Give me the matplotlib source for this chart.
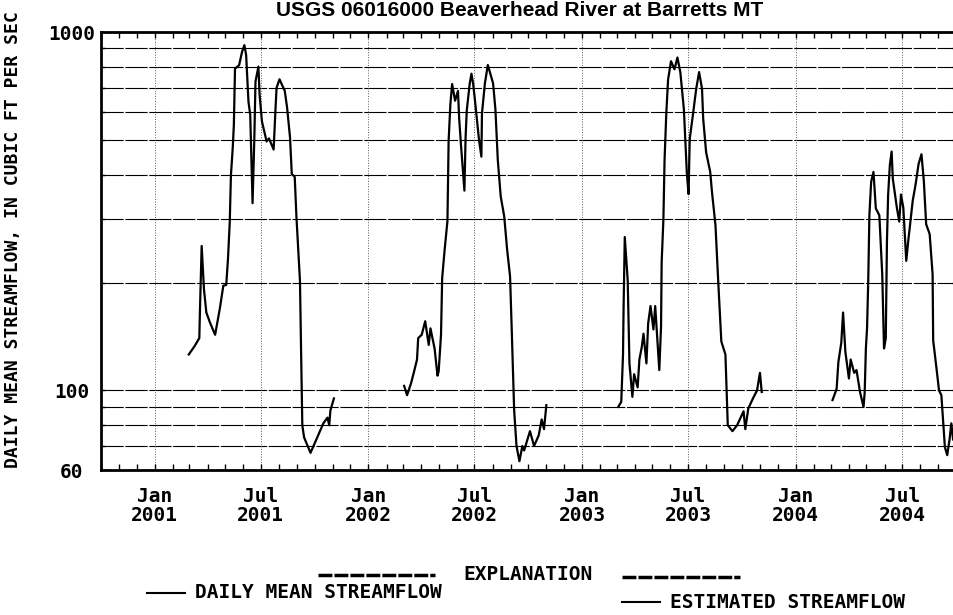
import matplotlib
matplotlib.use('Agg')
import matplotlib.pyplot as plt
import matplotlib.dates as mdates
import pandas as pd
from matplotlib.lines import Line2D
from matplotlib.ticker import FixedLocator, NullFormatter

# Daily mean streamflow (cubic ft per sec).
dates_2001 = ['2001-02-28', '2001-03-10', '2001-03-18', '2001-03-19', '2001-03-22', '2001-03-26',
              '2001-03-30', '2001-04-05', '2001-04-14', '2001-04-22', '2001-04-28', '2001-05-03',
              '2001-05-06', '2001-05-09', '2001-05-11', '2001-05-14', '2001-05-16', '2001-05-18',
              '2001-05-25', '2001-05-30', '2001-06-03', '2001-06-06', '2001-06-10', '2001-06-13',
              '2001-06-17', '2001-06-20', '2001-06-22', '2001-06-27', '2001-06-29', '2001-07-03',
              '2001-07-11', '2001-07-15', '2001-07-23', '2001-07-26', '2001-07-28', '2001-08-02',
              '2001-08-11', '2001-08-15', '2001-08-20', '2001-08-23', '2001-08-28', '2001-08-31',
              '2001-09-06', '2001-09-08', '2001-09-10', '2001-09-13', '2001-09-24', '2001-10-04',
              '2001-10-16', '2001-10-23', '2001-10-26', '2001-10-28', '2001-11-03']
flow_2001 = [126, 133, 140, 165, 253, 191, 165, 155, 143, 169, 196, 197,
             233, 295, 398, 472, 549, 790, 808, 880, 919, 863, 639, 587,
             333, 505, 728, 801, 668, 563, 495, 505, 470, 602, 699, 738,
             685, 615, 508, 401, 395, 304, 202, 126, 80, 74, 67, 73,
             81, 84, 80, 88, 95]

dates_2002 = ['2002-03-03', '2002-03-08', '2002-03-15', '2002-03-20', '2002-03-25', '2002-03-27',
              '2002-04-02', '2002-04-08', '2002-04-14', '2002-04-17', '2002-04-24', '2002-04-29',
              '2002-05-01', '2002-05-05', '2002-05-07', '2002-05-11', '2002-05-16', '2002-05-18',
              '2002-05-21', '2002-05-24', '2002-05-29', '2002-06-03', '2002-06-05', '2002-06-08',
              '2002-06-14', '2002-06-16', '2002-06-18', '2002-06-23', '2002-06-26', '2002-06-29',
              '2002-07-02', '2002-07-09', '2002-07-13', '2002-07-14', '2002-07-19', '2002-07-24',
              '2002-08-02', '2002-08-06', '2002-08-10', '2002-08-15', '2002-08-21', '2002-08-26',
              '2002-08-31', '2002-09-03', '2002-09-07', '2002-09-11', '2002-09-16', '2002-09-21',
              '2002-09-24', '2002-10-04', '2002-10-11', '2002-10-19', '2002-10-24', '2002-10-28',
              '2002-11-01']
flow_2002 = [103, 97, 105, 113, 122, 140, 143, 156, 134, 149, 131, 110,
             113, 143, 206, 245, 297, 497, 629, 716, 643, 685, 575, 487,
             361, 509, 604, 717, 765, 715, 645, 499, 449, 593, 719, 809,
             719, 607, 440, 348, 306, 247, 208, 145, 88, 70, 63.5, 70,
             68, 77, 70, 75, 83, 78, 91]

dates_2003 = ['2003-03-04', '2003-03-09', '2003-03-12', '2003-03-13', '2003-03-15', '2003-03-20',
              '2003-03-23', '2003-03-28', '2003-03-31', '2003-04-06', '2003-04-09', '2003-04-13',
              '2003-04-16', '2003-04-21', '2003-04-24', '2003-04-28', '2003-05-03', '2003-05-06',
              '2003-05-13', '2003-05-16', '2003-05-17', '2003-05-20', '2003-05-22', '2003-05-25',
              '2003-05-28', '2003-06-02', '2003-06-08', '2003-06-13', '2003-06-18', '2003-06-24',
              '2003-06-29', '2003-07-02', '2003-07-04', '2003-07-10', '2003-07-15', '2003-07-20',
              '2003-07-25', '2003-07-27', '2003-08-01', '2003-08-08', '2003-08-11', '2003-08-17',
              '2003-08-22', '2003-08-27', '2003-09-03', '2003-09-07', '2003-09-15', '2003-09-23',
              '2003-10-04', '2003-10-07', '2003-10-12', '2003-10-20', '2003-10-27', '2003-11-01',
              '2003-11-04']
flow_2003 = [90, 93, 126, 171, 268, 203, 119, 96, 111, 102, 122, 132,
             144, 119, 154, 172, 148, 172, 114, 151, 227, 300, 440, 595,
             736, 829, 787, 849, 771, 609, 406, 353, 503, 597, 693, 773,
             695, 573, 462, 407, 358, 289, 197, 137, 126, 80, 77, 80,
             87.5, 78, 89, 95, 100, 112, 99]

dates_2004 = ['2004-03-04', '2004-03-11', '2004-03-14', '2004-03-19', '2004-03-22', '2004-03-26',
              '2004-04-01', '2004-04-04', '2004-04-10', '2004-04-14', '2004-04-20', '2004-04-26',
              '2004-04-28', '2004-04-30', '2004-05-02', '2004-05-04', '2004-05-06', '2004-05-09',
              '2004-05-13', '2004-05-17', '2004-05-23', '2004-05-28', '2004-05-31', '2004-06-03',
              '2004-06-05', '2004-06-07', '2004-06-10', '2004-06-13', '2004-06-15', '2004-06-22',
              '2004-06-26', '2004-06-29', '2004-07-03', '2004-07-08', '2004-07-12', '2004-07-14',
              '2004-07-19', '2004-07-24', '2004-07-29', '2004-08-03', '2004-08-07', '2004-08-11',
              '2004-08-17', '2004-08-22', '2004-08-23', '2004-08-29', '2004-09-02', '2004-09-06',
              '2004-09-12', '2004-09-16', '2004-09-20', '2004-09-23', '2004-09-26']
flow_2004 = [94, 101, 120, 136, 165, 128, 108, 122, 112, 114, 99, 90,
             99, 131, 149, 201, 308, 382, 407, 322, 308, 210, 131, 140,
             260, 351, 426, 464, 390, 323, 296, 352, 323, 230, 267, 285,
             338, 376, 428, 456, 385, 291, 273, 211, 138, 114, 100, 97,
             69.5, 66, 73, 81, 73]

segments = [(dates_2001, flow_2001), (dates_2002, flow_2002),
            (dates_2003, flow_2003), (dates_2004, flow_2004)]

y_ticks = [60, 100, 1000]
y_grid = [70, 80, 90, 100, 200, 300, 400, 500, 600, 700, 800, 900]

title = 'USGS 06016000 Beaverhead River at Barretts MT'
y_label = 'DAILY MEAN STREAMFLOW, IN CUBIC FT PER SEC'

plt.rcParams['font.family'] = 'DejaVu Sans Mono'
plt.rcParams['font.weight'] = 'bold'

W, H = 954, 615
fig = plt.figure(figsize=(W / 100, H / 100), dpi=100)

def fx(px):
    return px / W

def fy(py):
    return 1 - py / H

# axes box in pixels: left 101, top 32, bottom 470, runs just past right edge
ax = fig.add_axes([fx(101), fy(470), 855 / W, 438 / H])

for d, v in segments:
    ax.plot(pd.to_datetime(d), v, color='black', lw=1.6)

ax.set_yscale('log')
ax.set_ylim(60, 1000)
ax.set_xlim(pd.Timestamp('2000-10-01'), pd.Timestamp('2004-10-01'))

ax.yaxis.set_major_locator(FixedLocator(y_ticks))
ax.yaxis.set_minor_locator(FixedLocator(y_grid))
ax.yaxis.set_minor_formatter(NullFormatter())
ax.set_yticklabels([str(t) for t in y_ticks], ha='center')
for g in y_grid:
    ax.axhline(g, color='black', lw=0.8, ls=(0, (20, 1.5)), zorder=1)

ax.xaxis.set_major_locator(mdates.MonthLocator(bymonth=[1, 7]))
ax.xaxis.set_minor_locator(mdates.MonthLocator())
ax.xaxis.set_major_formatter(mdates.DateFormatter('%b\n%Y'))
ax.grid(axis='x', which='major', color='0.35', lw=0.7, ls=':')

ax.tick_params(axis='x', which='both', direction='in', top=True, length=4, width=1,
               labelsize=14, pad=12)
ax.tick_params(axis='y', which='both', direction='in', right=True, length=3, width=1,
               labelsize=14, pad=21)
for lbl in ax.get_xticklabels():
    lbl.set_linespacing(1.0)

for s in ax.spines.values():
    s.set_linewidth(2)

fig.text(fx(520), fy(16), title, ha='center', va='baseline', fontsize=15,
         fontweight='bold', family='Liberation Sans')
fig.text(fx(13), fy(240), y_label, rotation=90, ha='center', va='center', fontsize=13)

# explanation block
fig.add_artist(Line2D([fx(318), fx(435)], [fy(575), fy(575)], color='black', lw=2.5,
                      ls=(0, (4, 0.6))))
fig.add_artist(Line2D([fx(622), fx(740)], [fy(577), fy(577)], color='black', lw=2.5,
                      ls=(0, (4, 0.6))))
fig.text(fx(463), fy(575), 'EXPLANATION', ha='left', va='center', fontsize=14)
fig.add_artist(Line2D([fx(147), fx(185)], [fy(593), fy(593)], color='black', lw=1.5))
fig.text(fx(195), fy(593), 'DAILY MEAN STREAMFLOW', ha='left', va='center', fontsize=14)
fig.add_artist(Line2D([fx(622), fx(660)], [fy(602), fy(602)], color='black', lw=1.5))
fig.text(fx(670), fy(602), 'ESTIMATED STREAMFLOW', ha='left', va='center', fontsize=14)

fig.savefig('out.png', dpi=100)
